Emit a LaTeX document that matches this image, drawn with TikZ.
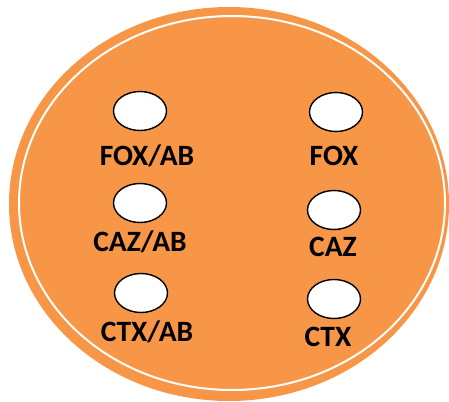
\documentclass[tikz,border=0pt]{standalone}
\usepackage{fontspec}
\setmainfont{Carlito}
\usetikzlibrary{shapes.geometric}
\definecolor{plate}{HTML}{F79646}
\tikzset{
  disc/.style={ellipse, draw=black, line width=1.4pt, fill=white, minimum width=53pt, minimum height=39pt, inner sep=0pt},
  lbl/.style={font=\fontsize{29.5}{31}\selectfont\bfseries, text=black, inner sep=0pt}
}
\begin{document}
\begin{tikzpicture}[x=1pt,y=-1pt]
\useasboundingbox (0,0) rectangle (449,401);
\clip (0,0) rectangle (449,401);
\fill[plate] (229,204) ellipse [x radius=220, y radius=197];
\draw[white, line width=2pt] (232,203) ellipse [x radius=213, y radius=187];
\node[disc] (d1) at (140,111) {};
\node[disc] (d2) at (336,112) {};
\node[disc] (d3) at (140,203) {};
\node[disc] (d4) at (334,210) {};
\node[disc] (d5) at (141,293) {};
\node[disc] (d6) at (334,299) {};
\node[lbl] (l1) at (147,156) {FOX/AB};
\node[lbl] (l2) at (334,156) {FOX};
\node[lbl] (l3) at (140,242) {CAZ/AB};
\node[lbl] (l4) at (333,247) {CAZ};
\node[lbl] (l5) at (147,332) {CTX/AB};
\node[lbl] (l6) at (328,337) {CTX};
\end{tikzpicture}
\end{document}
